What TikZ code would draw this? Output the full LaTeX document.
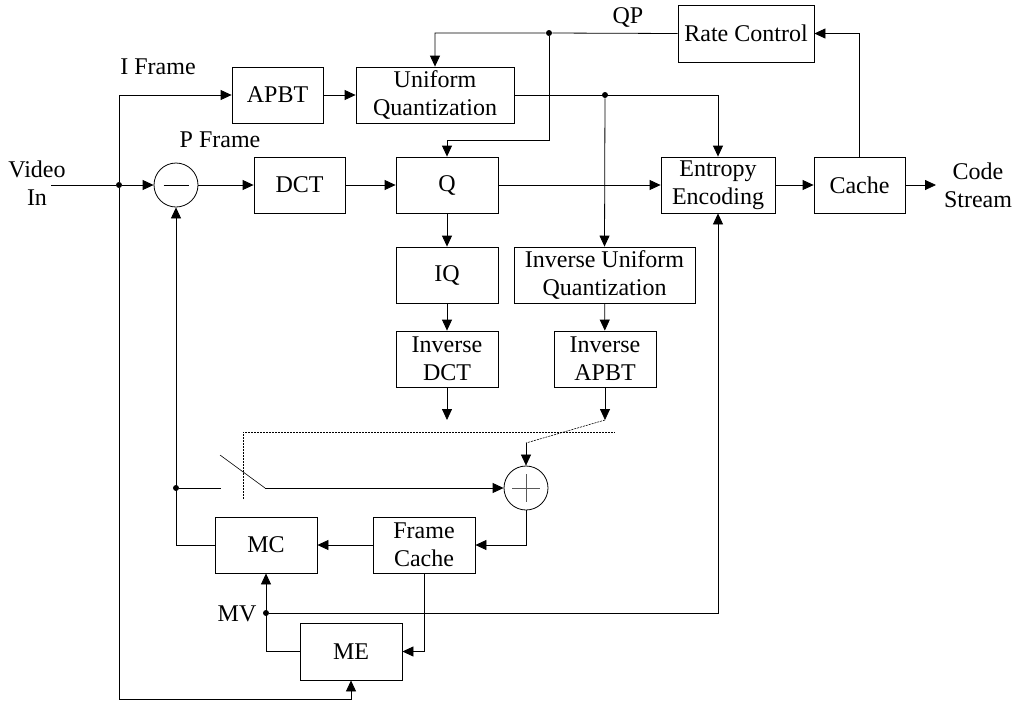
\documentclass[tikz,border=0pt]{standalone}
\usepackage{fontspec}
\setmainfont{Liberation Serif}
\usetikzlibrary{arrows.meta,calc}
\begin{document}
\begin{tikzpicture}[x=1pt,y=-1pt,
  font=\fontsize{24}{28}\selectfont,
  line width=0.8pt,
  blk/.style={draw,rectangle,inner sep=0pt,align=center,minimum height=56pt},
  sumc/.style={draw,circle,minimum size=44pt,inner sep=0pt},
  arr/.style={-{Triangle[length=11pt,width=10pt]}},
  dotl/.style={line width=0.6pt,dash pattern=on 2pt off 1pt},
  jdot/.style={circle,fill,inner sep=0pt,minimum size=6pt},
  lbl/.style={align=center,inner sep=0pt}]
\useasboundingbox (0,0) rectangle (1014,702);
% blocks
\node[blk,minimum width=91pt]  (apbt) at (277.5,95) {APBT};
\node[blk,minimum width=158pt] (uq)   at (435,95)   {Uniform\\Quantization};
\node[blk,minimum width=91pt]  (dct)  at (299.5,185) {DCT};
\node[blk,minimum width=102pt] (q)    at (447,185)  {Q};
\node[blk,minimum width=102pt] (iq)   at (447,275)  {IQ};
\node[blk,minimum width=102pt] (idct) at (447,359)  {Inverse\\DCT};
\node[blk,minimum width=114pt] (ee)   at (718,185)  {Entropy\\Encoding};
\node[blk,minimum width=91pt]  (cache) at (859.5,185) {Cache};
\node[blk,minimum width=136pt,minimum height=57pt] (rc) at (746,33.5) {Rate Control};
\node[blk,minimum width=181pt] (iuq)  at (604.5,275) {Inverse Uniform\\Quantization};
\node[blk,minimum width=102pt] (iapbt) at (605,359) {Inverse\\APBT};
\node[blk,minimum width=102pt] (mc)   at (266,545)  {MC};
\node[blk,minimum width=102pt] (fc)   at (424,545)  {Frame\\Cache};
\node[blk,minimum width=102pt,minimum height=57pt] (me) at (351,651.5) {ME};
% summing junctions
\node[sumc] (minus) at (176,185) {};
\draw[line width=0.6pt] ($(minus)+(-12.5,0)$) -- ($(minus)+(12.5,0)$);
\node[sumc] (plus) at (526,488) {};
\draw[line width=0.6pt,gray!70!black] ($(plus)+(-14,0)$) -- ($(plus)+(14,0)$);
\draw[line width=0.6pt,gray!70!black] ($(plus)+(0,-14)$) -- ($(plus)+(0,14)$);
% labels
\node[lbl] (lvid) at (37,183) {Video\\In};
\node[lbl] (lif) at (158,67) {I Frame};
\node[lbl] (lpf) at (220,140) {P Frame};
\node[lbl] (lqp) at (628,17) {QP};
\node[lbl] (lcs) at (978,185) {Code\\Stream};
\node[lbl] (lmv) at (237,614) {MV};
% coordinates and junctions
\coordinate (vin) at (51,185);
\node[jdot] (j1) at (119,185) {};
\coordinate (jb) at (119,699);
\node[jdot] (qpdot) at (549,33) {};
\coordinate (qbend) at (549,140);
\node[jdot] (uqdot) at (605,95) {};
\coordinate (cs) at (936,185);
\coordinate (idctend) at (447,420);
\coordinate (iapbtend) at (605,420);
\coordinate (pin) at (526,443);
\node[jdot] (sw) at (176,488) {};
\coordinate (swa) at (221,488);
\coordinate (swb0) at (220,455);
\coordinate (swb) at (265,488);
\node[jdot] (mvdot) at (266,613) {};
\coordinate (d1) at (243,499);
\coordinate (d2) at (243,432);
\coordinate (d3) at (615,432);
% connectors
\draw (vin) -- (j1);
\draw[arr] (j1) -- (minus);
\draw[arr] (j1) |- (apbt.west);
\draw[arr] (j1) -- (jb) -| (me.south);
\draw[arr] (apbt) -- (uq);
\draw[arr] (minus) -- (dct);
\draw[arr] (dct) -- (q);
\draw[arr] (rc.west) -- (qpdot) -| (uq.north);
\draw[arr] (qpdot) -- (qbend) -| (q.north);
\draw[arr] (uq.east) -| (ee.north);
\draw[arr] (uqdot) -- (iuq.north);
\draw[arr] (q) -- (ee);
\draw[arr] (ee) -- (cache);
\draw[arr] (cache) -- (cs);
\draw[arr] (cache.north) |- (rc.east);
\draw[arr] (q) -- (iq);
\draw[arr] (iq) -- (idct);
\draw[arr] (idct) -- (idctend);
\draw[arr] (iuq) -- (iapbt);
\draw[arr] (iapbt) -- (iapbtend);
\draw[dotl] (iapbtend) -- (pin);
\draw[arr,line width=0.6pt] (pin) -- (plus.north);
\draw[dotl] (d1) -- (d2) -- (d3);
\draw (sw) -- (swa);
\draw[line width=0.6pt] (swb0) -- (swb);
\draw[arr] (swb) -- (plus.west);
\draw[arr] (mc.west) -| (minus.south);
\draw[arr] (plus.south) |- (fc.east);
\draw[arr] (fc) -- (mc);
\draw[arr] (fc.south) |- (me.east);
\draw[arr] (me.west) -| (mc.south);
\draw[arr] (mvdot) -| (ee.south);
\end{tikzpicture}
\end{document}
